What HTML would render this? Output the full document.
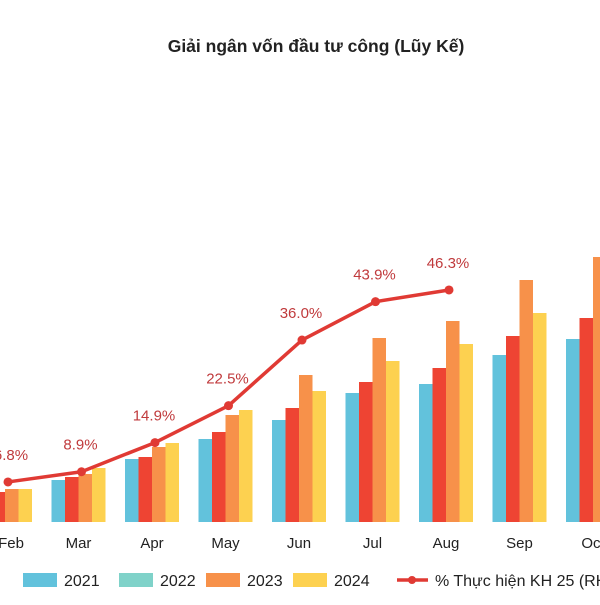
<!DOCTYPE html>
<html><head><meta charset="utf-8"><style>
body{margin:0;background:#fff;width:600px;height:600px;overflow:hidden;font-family:"Liberation Sans","Noto Sans CJK SC",sans-serif}
</style></head><body>
<svg id="c" width="600" height="600" xmlns="http://www.w3.org/2000/svg">
<text x="316" y="52" text-anchor="middle" font-size="17.5" font-weight="bold" fill="#222">Giải ngân vốn đầu tư công (Lũy Kế)</text>
<g id="bars"></g><g id="line"></g><g id="xlab"></g><g id="legend"></g>
</svg>
<script>
const months=["Feb","Mar","Apr","May","Jun","Jul","Aug","Sep","Oct"];
const s2021=[27,42,63,83,102,129,138,167,183];
const s2022=[30,45,65,90,114,140,154,186,204];
const s2023=[33,48,75,107,147,184,201,242,265];
const s2024=[33,54,79,112,131,161,178,209,240];
const pct=[6.8,8.9,14.9,22.5,36.0,43.9,46.3];
const series=[s2021,s2022,s2023,s2024];
const colors=["#62c2dc","#ee4433","#f7914a","#fdd150"];
const names=["2021","2022","2023","2024"];
const NS="http://www.w3.org/2000/svg";
const base=522;
function xC(i){return 5+i*73.5;}
function yV(v){return base-v;}
function yP(p){return 515-p*4.86;}
function mk(t,a,parent){const e=document.createElementNS(NS,t);for(const k in a)e.setAttribute(k,a[k]);parent.appendChild(e);return e;}
const bw=13.5;
const gb=document.getElementById('bars');
months.forEach((m,i)=>{
 series.forEach((s,j)=>{
  const r=mk('rect',{x:xC(i)-2*bw+j*bw,y:yV(s[i]),width:bw,height:base-yV(s[i]),fill:colors[j]},gb);
  
  
 });
 const t=mk('text',{x:xC(i)+(i==0?6:0),y:548,'text-anchor':'middle','font-size':15,fill:'#222'},document.getElementById('xlab'));
 t.textContent=m;
 
 
});
const gl=document.getElementById('line');
const pts=pct.map((p,i)=>(xC(i)+3)+','+yP(p)).join(' ');
const pl=mk('polyline',{points:pts,fill:'none',stroke:'#e03a34','stroke-width':3.5,'stroke-linejoin':'round'},gl);


pct.forEach((p,i)=>{
 const c=mk('circle',{cx:xC(i)+3,cy:yP(p),r:4.5,fill:'#e03a34'},gl);
 
 
 const t=mk('text',{x:xC(i)+(i==0?6:2),y:yP(p)-22,'text-anchor':'middle','font-size':15,fill:'#c03a3c'},gl);
 t.textContent=p.toFixed(1)+'%';
 
 
});
const lg=document.getElementById('legend');
const lcol=["#62c2dc","#7fd2c9","#f7914a","#fdd150"];
const lx=[23,119,206,293];
names.forEach((n,j)=>{
 const r=mk('rect',{x:lx[j],y:573,width:34,height:14,fill:lcol[j]},lg);
 
 
 const t=mk('text',{x:lx[j]+41,y:586,'font-size':16,fill:'#222'},lg);
 t.textContent=n;
 
 
});
const ll=mk('line',{x1:397,y1:580,x2:428,y2:580,stroke:'#e03a34','stroke-width':3.5},lg);


const lc=mk('circle',{cx:412,cy:580,r:4,fill:'#e03a34'},lg);


const lt=mk('text',{x:435,y:586,'font-size':16,fill:'#222'},lg);
lt.textContent='% Thực hiện KH 25 (RHS)';


</script>
</body></html>
